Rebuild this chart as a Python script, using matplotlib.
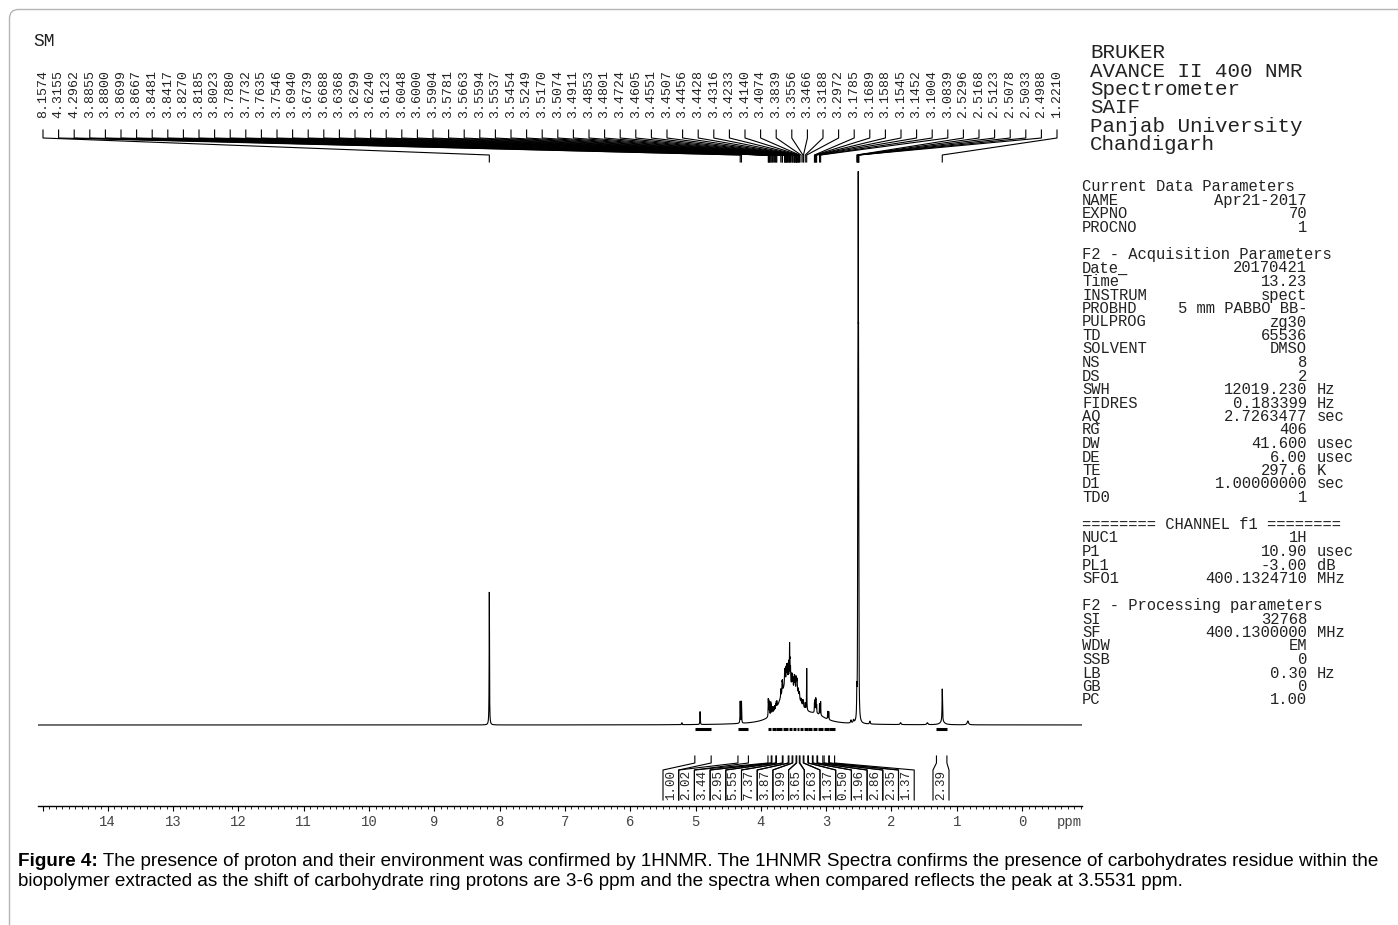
import numpy as np
import matplotlib
matplotlib.use('Agg')
import matplotlib.pyplot as plt
from matplotlib.patches import FancyBboxPatch
from matplotlib.ticker import FixedLocator, FixedFormatter, MultipleLocator
from matplotlib import font_manager

# ------------------------------------------------------------------ data
peak_labels = [8.1574, 4.3155, 4.2962, 3.8855, 3.8800, 3.8699, 3.8667, 3.8481,
               3.8417, 3.8270, 3.8185, 3.8023, 3.7880, 3.7732, 3.7635, 3.7546,
               3.6940, 3.6739, 3.6688, 3.6368, 3.6299, 3.6240, 3.6123, 3.6048,
               3.6000, 3.5904, 3.5781, 3.5663, 3.5594, 3.5537, 3.5454, 3.5249,
               3.5170, 3.5074, 3.4911, 3.4853, 3.4801, 3.4724, 3.4605, 3.4551,
               3.4507, 3.4456, 3.4428, 3.4316, 3.4233, 3.4140, 3.4074, 3.3839,
               3.3556, 3.3466, 3.3188, 3.2972, 3.1785, 3.1689, 3.1588, 3.1545,
               3.1452, 3.1004, 3.0839, 2.5296, 2.5168, 2.5123, 2.5078, 2.5033,
               2.4988, 1.2210]

# sharp lines: position (ppm), height, half width (ppm)
line_ppm = [8.1574, 5.21, 4.93, 4.3155, 4.2962,
            3.8855, 3.8800, 3.8699, 3.8667, 3.8481, 3.8417, 3.8270, 3.8185,
            3.8023, 3.7880, 3.7732, 3.7635, 3.7546, 3.6940, 3.6739, 3.6688,
            3.6368, 3.6299, 3.6240, 3.6123, 3.6048, 3.6000, 3.5904, 3.5781,
            3.5663, 3.5594, 3.5537, 3.5454, 3.5249, 3.5170, 3.5074, 3.4911,
            3.4853, 3.4801, 3.4724, 3.4605, 3.4551, 3.4507, 3.4456, 3.4428,
            3.4316, 3.4233, 3.4140, 3.4074, 3.3839, 3.3556, 3.3466, 3.3188,
            3.2972, 3.1785, 3.1689, 3.1588, 3.1545, 3.1452, 3.1004, 3.0839,
            2.975, 2.960, 2.62, 2.58, 2.5296, 2.5168, 2.5123, 2.5078, 2.5033,
            2.4988, 2.33, 1.86, 1.45, 1.2210, 0.83]
line_height = [133, 2, 13, 22, 22,
               16, 14, 10, 10, 12, 9, 6, 6,
               5, 5, 5, 6, 6, 8, 10, 10,
               10, 12, 12, 13, 13, 13, 15, 16,
               16, 34, 18, 15, 11, 11, 9, 9,
               11, 11, 9, 11, 11, 9, 8, 8,
               6, 6, 5, 5, 4, 6, 5, 6,
               42, 9, 12, 12, 10, 8, 11, 14,
               8, 8, 3, 3, 25, 100, 250, 420, 250, 100,
               3, 2, 2, 33, 4]
line_width = [0.003, 0.004, 0.003, 0.003, 0.003] + [0.0025] * 56 + \
             [0.003, 0.003, 0.006, 0.006, 0.003,
              0.0025, 0.0025, 0.0025, 0.0025, 0.0025,
              0.006, 0.008, 0.01, 0.004, 0.012]

# broad carbohydrate envelope
broad_ppm = [3.60, 3.45, 3.15, 1.22]
broad_height = [38, 14, 7, 3]
broad_width = [0.13, 0.11, 0.17, 0.04]

# integrals (region start, region end in ppm) and printed values
integral_start = [5.01, 4.35, 3.89, 3.83, 3.76, 3.66, 3.57, 3.51, 3.45, 3.40,
                  3.34, 3.27, 3.20, 3.13, 3.03, 2.95, 1.31]
integral_end = [4.76, 4.19, 3.84, 3.77, 3.67, 3.58, 3.52, 3.46, 3.41, 3.35,
                3.28, 3.21, 3.14, 3.05, 2.96, 2.87, 1.15]
integral_values = ['1.00', '2.02', '3.44', '2.95', '5.55', '7.37', '3.87', '3.99',
                   '3.65', '2.63', '1.37', '0.50', '1.96', '2.86', '2.35', '1.37',
                   '2.39']

tick_values = list(range(0, 16))
tick_labels = [str(v) for v in range(0, 15)] + ['']

title_lines = ['BRUKER', 'AVANCE II 400 NMR', 'Spectrometer', 'SAIF',
               'Panjab University', 'Chandigarh']

param_rows = [
    ('Current Data Parameters',),
    ('NAME', 'Apr21-2017', ''), ('EXPNO', '70', ''), ('PROCNO', '1', ''),
    None,
    ('F2 - Acquisition Parameters',),
    ('Date_', '20170421', ''), ('Time', '13.23', ''), ('INSTRUM', 'spect', ''),
    ('PROBHD', '5 mm PABBO BB-', ''), ('PULPROG', 'zg30', ''),
    ('TD', '65536', ''), ('SOLVENT', 'DMSO', ''), ('NS', '8', ''),
    ('DS', '2', ''), ('SWH', '12019.230', 'Hz'), ('FIDRES', '0.183399', 'Hz'),
    ('AQ', '2.7263477', 'sec'), ('RG', '406', ''), ('DW', '41.600', 'usec'),
    ('DE', '6.00', 'usec'), ('TE', '297.6', 'K'), ('D1', '1.00000000', 'sec'),
    ('TD0', '1', ''),
    None,
    ('======== CHANNEL f1 ========',),
    ('NUC1', '1H', ''), ('P1', '10.90', 'usec'), ('PL1', '-3.00', 'dB'),
    ('SFO1', '400.1324710', 'MHz'),
    None,
    ('F2 - Processing parameters',),
    ('SI', '32768', ''), ('SF', '400.1300000', 'MHz'), ('WDW', 'EM', ''),
    ('SSB', '0', ''), ('LB', '0.30', 'Hz'), ('GB', '0', ''), ('PC', '1.00', ''),
]

caption_bold = 'Figure 4:'
caption_line1 = (' The presence of proton and their environment was confirmed by 1HNMR. '
                 'The 1HNMR Spectra confirms the presence of carbohydrates residue within the')
caption_line2 = ('biopolymer extracted as the shift of carbohydrate ring protons are 3-6 ppm '
                 'and the spectra when compared reflects the peak at 3.5531 ppm.')

# ------------------------------------------------------------------ layout helpers
W, H, DPI = 1398, 925, 100
MONO = 'Liberation Mono'
_names = {f.name for f in font_manager.fontManager.ttflist}
SANS = 'Liberation Sans Narrow' if 'Liberation Sans Narrow' in _names else 'Liberation Sans'
INK = '#222222'


def fx(px):
    return px / W


def fy(py):
    return 1 - py / H


PX0, PX1 = 38, 1082          # axis pixel extent
ZERO_PX, PX_PER_PPM = 1022, 65.3
BASE = 725                   # baseline pixel row


def P(px):                   # pixel column -> ppm
    return (ZERO_PX - px) / PX_PER_PPM


def Y(py):                   # pixel row -> data y
    return BASE - py


fig = plt.figure(figsize=(W / DPI, H / DPI), dpi=DPI)

# rounded frame
frame = FancyBboxPatch((0.095, -0.5), 14.5, 9.155 + 0.5,
                       boxstyle='round,pad=0,rounding_size=0.09',
                       transform=fig.dpi_scale_trans, fill=False,
                       edgecolor='#b5b5b5', lw=1.0)
fig.patches.append(frame)

ax = fig.add_axes([fx(PX0), 0, fx(PX1) - fx(PX0), 1])
ax.set_xlim(P(PX0), P(PX1))
ax.set_ylim(Y(H), Y(0))
ax.axis('off')

# ------------------------------------------------------------------ spectrum
ppm = np.linspace(P(PX0), P(PX1), 40001)
spec = np.zeros_like(ppm)
for c, h, w in zip(broad_ppm, broad_height, broad_width):
    spec += h / (1 + ((ppm - c) / w) ** 2)
for c, h, w in zip(line_ppm, line_height, line_width):
    spec += h / (1 + ((ppm - c) / w) ** 2)
ax.plot(ppm, spec, color='black', lw=0.8, solid_joinstyle='miter')

# integral bars below the baseline
for s, e in zip(integral_start, integral_end):
    ax.plot([s, e], [Y(729), Y(729)], color='black', lw=2.2, solid_capstyle='butt')

# ------------------------------------------------------------------ peak labels
label_pos = np.linspace(P(43), P(1057), len(peak_labels))
for lp, pk in zip(label_pos, peak_labels):
    ax.plot([lp, lp, pk, pk], [Y(130), Y(138), Y(155), Y(162)],
            color='black', lw=0.8)
    ax.text(lp, Y(118), f'{pk:.4f}', rotation=90, ha='center', va='bottom',
            fontsize=9.5, family=MONO, color=INK)

# ------------------------------------------------------------------ integral labels
n_main = len(integral_values) - 1
for i, (s, e, v) in enumerate(zip(integral_start, integral_end, integral_values)):
    if i < n_main:
        bl, br = P(663 + i * 15.7), P(663 + (i + 1) * 15.7)
    else:
        bl, br = P(933), P(949)
    ax.plot([s, s, bl, bl], [Y(756), Y(763), Y(770), Y(800)], color='black', lw=0.8)
    ax.plot([e, e, br, br], [Y(756), Y(763), Y(770), Y(800)], color='black', lw=0.8)
    ax.text((bl + br) / 2, Y(785), v, rotation=90, ha='center', va='center',
            fontsize=9, family=MONO, color=INK)

# ------------------------------------------------------------------ ppm axis
axx = fig.add_axes([fx(PX0), fy(806), fx(PX1) - fx(PX0), 1e-4])
axx.set_xlim(P(PX0), P(PX1))
for sp in ['top', 'left', 'right']:
    axx.spines[sp].set_visible(False)
axx.spines['bottom'].set_linewidth(1.0)
axx.set_yticks([])
axx.xaxis.set_major_locator(FixedLocator(tick_values))
axx.xaxis.set_major_formatter(FixedFormatter(tick_labels))
axx.xaxis.set_minor_locator(MultipleLocator(0.1))
axx.tick_params(axis='x', which='major', direction='out', length=3.5, width=0.8,
                pad=3, labelsize=10, labelcolor='#444444')
axx.tick_params(axis='x', which='minor', direction='out', length=1.8, width=0.6)
for lab in axx.get_xticklabels():
    lab.set_family(MONO)
fig.text(fx(1082), fy(822), 'ppm', ha='right', va='center', fontsize=10,
         family=MONO, color='#444444')

# ------------------------------------------------------------------ texts
fig.text(fx(33), fy(42), 'SM', ha='left', va='center', fontsize=13,
         family=MONO, color=INK)

for i, t in enumerate(title_lines):
    fig.text(fx(1090), fy(53 + i * 18.3), t, ha='left', va='center',
             fontsize=15, family=MONO, color=INK)

PS = 11.2
for i, row in enumerate(param_rows):
    if row is None:
        continue
    yy = fy(187 + i * 13.5)
    if len(row) == 1:
        fig.text(fx(1082), yy, row[0], ha='left', va='center', fontsize=PS,
                 family=MONO, color=INK)
    else:
        key, val, unit = row
        fig.text(fx(1082), yy, key, ha='left', va='center', fontsize=PS,
                 family=MONO, color=INK)
        fig.text(fx(1307), yy, val, ha='right', va='center', fontsize=PS,
                 family=MONO, color=INK)
        if unit:
            fig.text(fx(1317), yy, unit, ha='left', va='center', fontsize=PS,
                     family=MONO, color=INK)

# ------------------------------------------------------------------ caption
renderer = fig.canvas.get_renderer()
cap_size = 12.0
tb = fig.text(fx(18), fy(862), caption_bold, ha='left', va='center',
              fontsize=cap_size, family=SANS, weight='bold', color='black')
t1 = fig.text(fx(18), fy(862), caption_line1, ha='left', va='center',
              fontsize=cap_size, family=SANS, color='black')
t2 = fig.text(fx(18), fy(881), caption_line2, ha='left', va='center',
              fontsize=cap_size, family=SANS, color='black')
wb = tb.get_window_extent(renderer).width
w1 = t1.get_window_extent(renderer).width
scale = (1385 - 18) / (wb + w1)
for t in (tb, t1, t2):
    t.set_fontsize(min(cap_size * scale, 14.5))
wb = tb.get_window_extent(renderer).width
t1.set_x(fx(18 + wb))

fig.savefig('out.png', dpi=DPI)
